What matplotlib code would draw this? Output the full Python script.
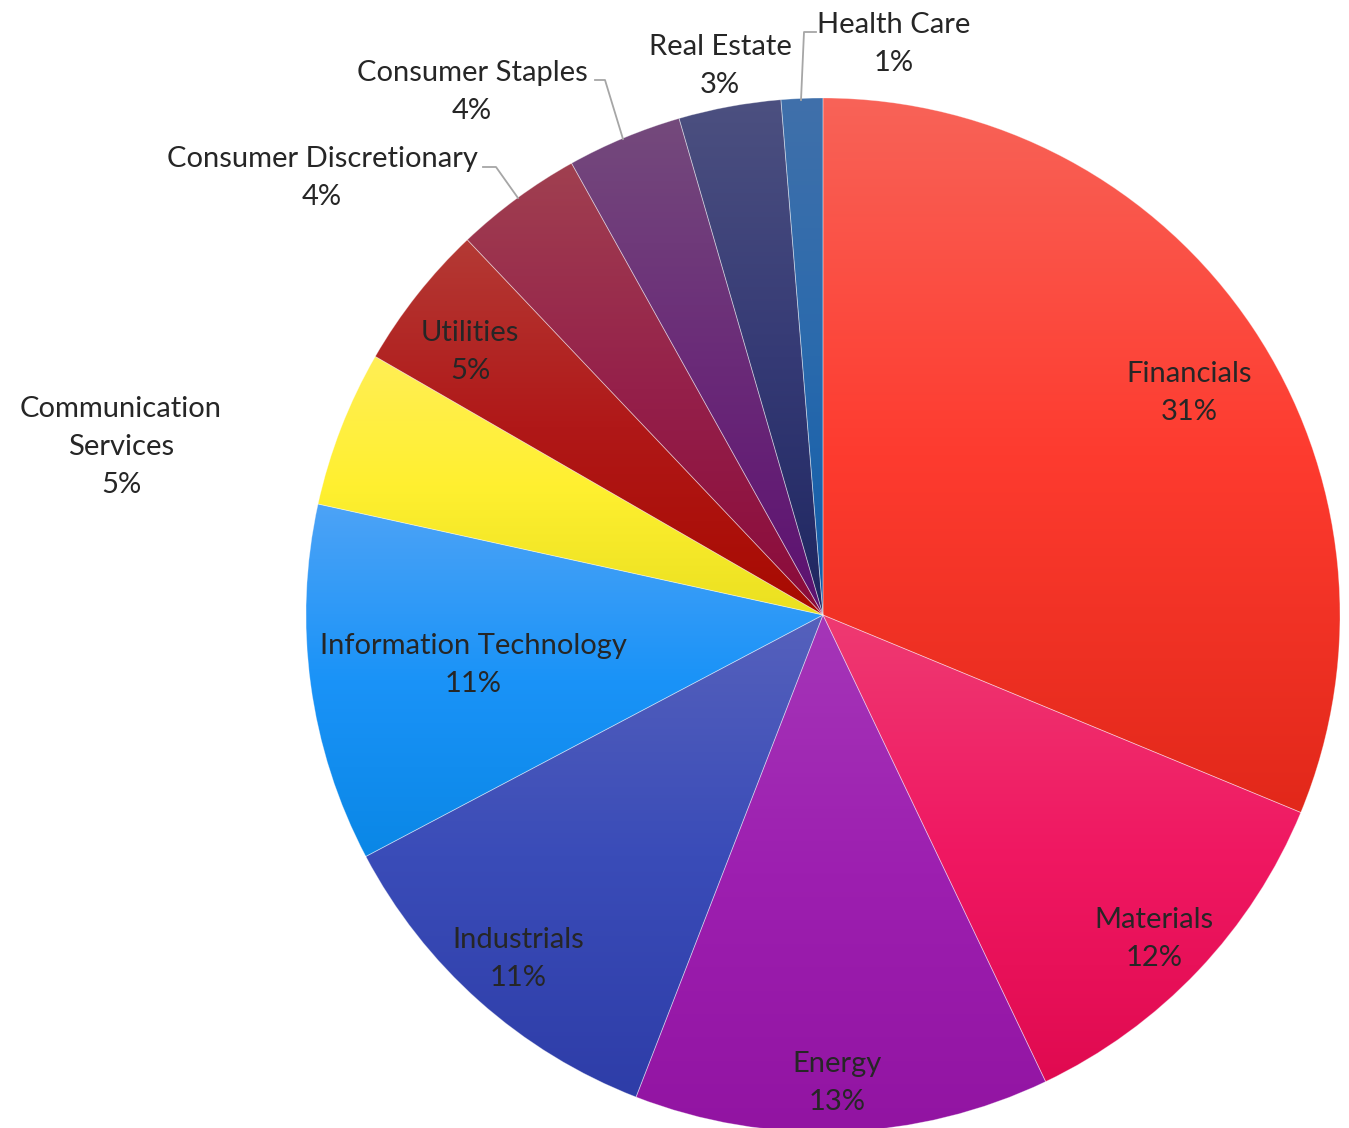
import numpy as np
import matplotlib.pyplot as plt
from matplotlib.colors import to_rgb

W, H = 1349, 1128

sectors = ['Financials', 'Materials', 'Energy', 'Industrials', 'Information Technology',
           'Communication Services', 'Utilities', 'Consumer Discretionary',
           'Consumer Staples', 'Real Estate', 'Health Care']
weights = [31.3, 11.7, 13.0, 11.4, 11.2, 4.9, 4.6, 4.0, 3.6, 3.2, 1.3]

# top / middle / bottom colour stops for each slice's vertical gradient
grad_top = ['#F86358', '#EE3A72', '#A536B8', '#5661BC', '#4DA3F6', '#FFEE55',
            '#B43A35', '#A04050', '#744A7C', '#4C5080', '#4070AA']
grad_mid = ['#FE3B2F', '#F01862', '#9D1FB0', '#3A4CB8', '#1A93F8', '#FFF030',
            '#B01818', '#95204A', '#6A2A78', '#353A75', '#2A6AAD']
grad_bot = ['#E2281A', '#E00A50', '#9214A2', '#2E3DA8', '#0A87E6', '#EAE020',
            '#A80A00', '#8A0A3A', '#5C1070', '#1E2660', '#105CA8']

# label anchor (pixel x, pixel y of the label block centre)
label_pos = [(1189, 393), (1154, 939), (837, 1083), (518, 959), (473, 665),
             (121, 447), (470, 352), (322, 178), (472, 92), (720, 66), (894, 44)]

plt.rcParams['font.family'] = ['Lato', 'DejaVu Sans']

fig = plt.figure(figsize=(W / 100, H / 100), dpi=100)
ax = fig.add_axes([0, 0, 1, 1])

cx, cy, r = 823, H - 615, 517
wedges, _ = ax.pie(weights, startangle=90, counterclock=False, center=(cx, cy),
                   radius=r, wedgeprops=dict(facecolor='none', edgecolor=(1, 1, 1, 0.35),
                                             linewidth=0.6, zorder=3))

def gradient(c0, c1, c2, n=256):
    a = np.array(to_rgb(c0)); b = np.array(to_rgb(c1)); c = np.array(to_rgb(c2))
    t = np.linspace(0, 1, n)[:, None]
    top = a + (b - a) * np.clip(t * 2, 0, 1)
    bot = b + (c - b) * np.clip(t * 2 - 1, 0, 1)
    g = np.where(t < 0.5, top, bot)
    return g[:, None, :]

for i, w in enumerate(wedges):
    ext = w.get_path().get_extents()
    im = ax.imshow(gradient(grad_top[i], grad_mid[i], grad_bot[i]),
                   extent=(ext.x0, ext.x1, ext.y0, ext.y1), origin='upper',
                   aspect='auto', interpolation='bilinear', zorder=2)
    im.set_clip_path(w)

total = sum(weights)
for i, name in enumerate(sectors):
    pct = weights[i] / total * 100
    txt = name
    if name == 'Communication Services':
        txt = 'Communication\nServices'
    x, y = label_pos[i]
    ax.text(x, H - y, f'{txt}\n{pct:.0f}%', ha='center', va='center',
            fontsize=21, color='#262626', linespacing=1.55, zorder=5)

# leader lines for the small slices at the top
leaders = [
    [(816, 32), (804, 32), (801, 100)],
    [(595, 80), (605, 80), (623, 139)],
    [(483, 167), (496, 167), (518, 198)],
]
for pts in leaders:
    xs = [p[0] for p in pts]
    ys = [H - p[1] for p in pts]
    ax.plot(xs, ys, color='#A6A6A6', lw=1.3, zorder=4)

ax.set_xlim(0, W)
ax.set_ylim(0, H)
ax.axis('off')
fig.savefig('out.png', dpi=100, facecolor='white')
